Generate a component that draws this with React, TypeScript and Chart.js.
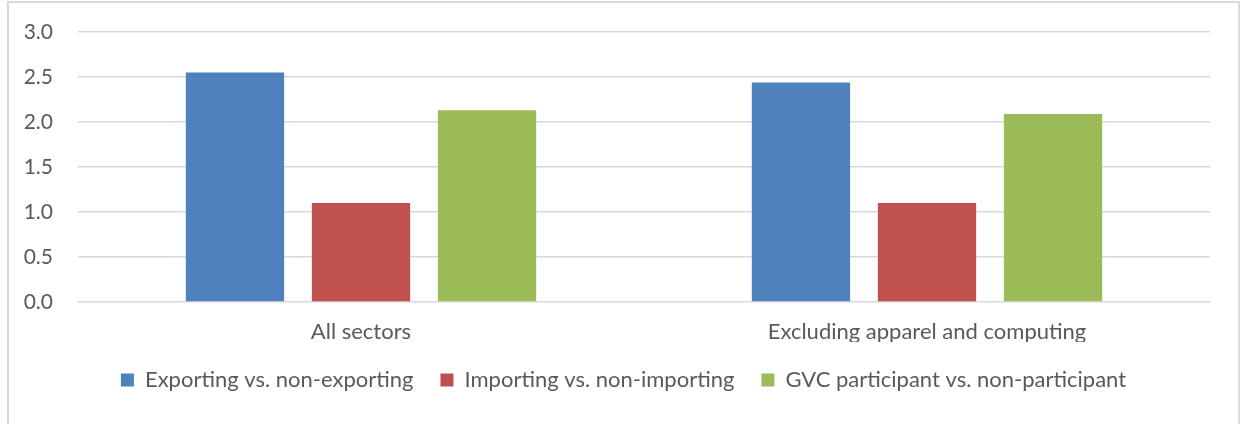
import React, { useEffect, useRef } from "react";
import { Chart, registerables } from "chart.js";

Chart.register(...registerables);

const categories = ["All sectors", "Excluding apparel and computing"];
const seriesNames = [
  "Exporting vs. non-exporting",
  "Importing vs. non-importing",
  "GVC participant vs. non-participant",
];
const exportingValues = [2.55, 2.44];
const importingValues = [1.1, 1.1];
const gvcValues = [2.13, 2.09];
const seriesColors = ["#4F81BD", "#C0504D", "#9BBB59"];
const yTicks = [0, 0.5, 1, 1.5, 2, 2.5, 3];

const FONT = "Lato, 'Open Sans', sans-serif";
const TEXT = "#595959";

const legendShift = {
  id: "legendShift",
  afterLayout(chart: any) {
    const lg = chart.legend;
    if (lg) {
      lg.left += 18.5;
      lg.right += 18.5;
    }
  },
};

export default function App() {
  const ref = useRef<HTMLCanvasElement | null>(null);

  useEffect(() => {
    const canvas = ref.current;
    if (!canvas) return;
    const values = [exportingValues, importingValues, gvcValues];
    const chart = new Chart(canvas, {
      type: "bar",
      data: {
        labels: categories,
        datasets: seriesNames.map((name, i) => ({
          label: name,
          data: values[i],
          backgroundColor: seriesColors[i],
          borderWidth: 0,
          barPercentage: 0.78,
          categoryPercentage: 0.668,
        })),
      },
      plugins: [legendShift],
      options: {
        animation: false,
        responsive: false,
        maintainAspectRatio: false,
        layout: { padding: { top: 32, right: 31, bottom: 23, left: 0 } },
        plugins: {
          tooltip: { enabled: false },
          legend: {
            position: "bottom",
            labels: {
              boxWidth: 13,
              boxHeight: 13,
              padding: 27,
              color: TEXT,
              font: { family: FONT, size: 22 },
            },
          },
        },
        scales: {
          x: {
            grid: { display: false, drawTicks: false },
            border: { display: false },
            ticks: { color: TEXT, font: { family: FONT, size: 22 }, padding: 17 },
            afterFit: (s: any) => {
              s.height = 40;
            },
          },
          y: {
            min: 0,
            max: 3,
            afterBuildTicks: (s: any) => {
              s.ticks = yTicks.map((v) => ({ value: v }));
            },
            grid: { color: "#D9D9D9", lineWidth: 1.5, drawTicks: false },
            border: { display: false },
            ticks: {
              color: TEXT,
              font: { family: FONT, size: 21 },
              padding: 25,
              callback: (v: any) => Number(v).toFixed(1),
            },
            afterFit: (s: any) => {
              s.width = 78;
              s.paddingTop = 0;
              s.paddingBottom = 0;
            },
          },
        },
      },
    });
    return () => chart.destroy();
  }, []);

  return (
    <div
      style={{
        position: "fixed",
        left: 0,
        top: 0,
        width: 1241,
        height: 424,
        overflow: "hidden",
        background: "#fff",
      }}
    >
      <div
        style={{
          position: "absolute",
          left: 7,
          top: 1,
          width: 1233,
          height: 440,
          border: "2px solid #D9D9D9",
          boxSizing: "border-box",
        }}
      />
      <canvas
        ref={ref}
        width={1241}
        height={424}
        style={{ position: "absolute", left: 0, top: 0, width: 1241, height: 424 }}
      />
    </div>
  );
}
